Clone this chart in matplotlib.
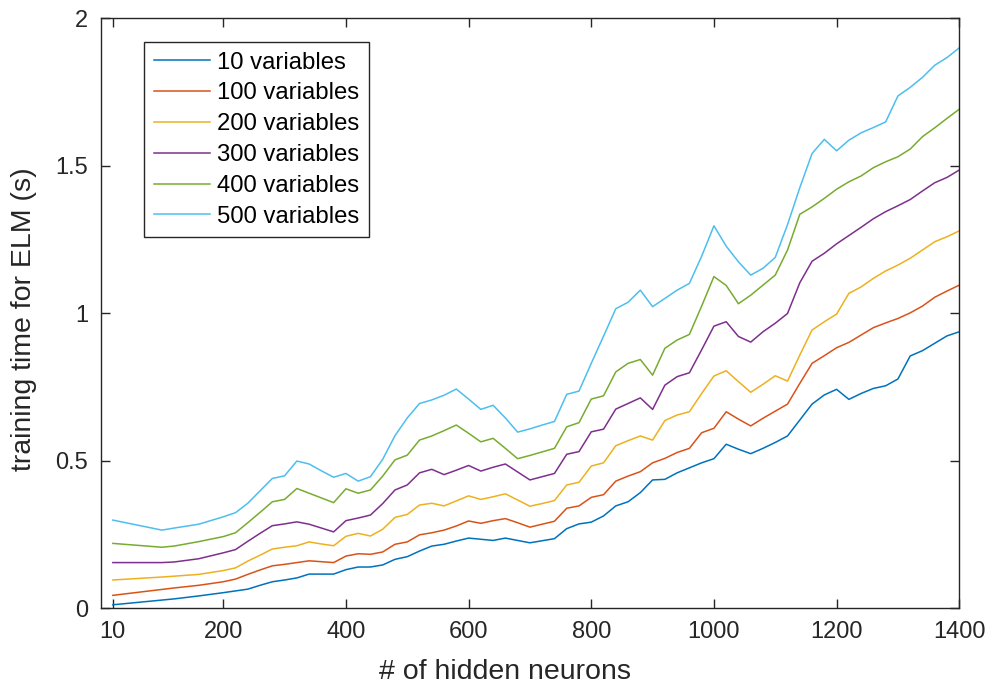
import matplotlib
matplotlib.use("Agg")
import matplotlib.pyplot as plt
from matplotlib.ticker import FixedLocator, FixedFormatter

plt.rcParams['font.family'] = ['Liberation Sans', 'DejaVu Sans']

hidden = [20, 100, 120, 160, 200] + list(range(220, 1401, 20))

v10 = [0.012, 0.028, 0.032, 0.042, 0.053, 0.059, 0.065, 0.078, 0.090, 0.096, 0.103, 0.116, 0.116, 0.116,
       0.131, 0.140, 0.140, 0.147, 0.166, 0.175, 0.194, 0.211, 0.217, 0.228, 0.238, 0.234, 0.230, 0.238,
       0.230, 0.222, 0.229, 0.236, 0.270, 0.286, 0.292, 0.313, 0.347, 0.361, 0.392, 0.435, 0.437, 0.459,
       0.476, 0.493, 0.507, 0.556, 0.539, 0.524, 0.542, 0.562, 0.584, 0.638, 0.692, 0.723, 0.742, 0.708,
       0.728, 0.745, 0.754, 0.777, 0.855, 0.873, 0.898, 0.923, 0.937]
v100 = [0.044, 0.064, 0.069, 0.078, 0.090, 0.099, 0.115, 0.130, 0.144, 0.149, 0.155, 0.161, 0.158, 0.155,
        0.177, 0.185, 0.183, 0.191, 0.217, 0.225, 0.249, 0.256, 0.265, 0.279, 0.296, 0.288, 0.297, 0.304,
        0.290, 0.275, 0.285, 0.295, 0.339, 0.347, 0.376, 0.385, 0.431, 0.448, 0.463, 0.493, 0.508, 0.528,
        0.542, 0.595, 0.610, 0.666, 0.641, 0.618, 0.644, 0.668, 0.692, 0.762, 0.830, 0.856, 0.883, 0.901,
        0.926, 0.951, 0.967, 0.982, 1.001, 1.024, 1.054, 1.075, 1.095]
v200 = [0.096, 0.106, 0.109, 0.115, 0.128, 0.137, 0.160, 0.180, 0.201, 0.207, 0.212, 0.225, 0.218, 0.212,
        0.244, 0.254, 0.245, 0.268, 0.308, 0.318, 0.350, 0.356, 0.347, 0.364, 0.381, 0.369, 0.378, 0.388,
        0.367, 0.346, 0.355, 0.365, 0.418, 0.427, 0.482, 0.493, 0.551, 0.568, 0.584, 0.570, 0.636, 0.655,
        0.666, 0.728, 0.787, 0.805, 0.768, 0.732, 0.759, 0.788, 0.770, 0.858, 0.943, 0.971, 0.997, 1.067,
        1.089, 1.118, 1.143, 1.163, 1.186, 1.214, 1.242, 1.259, 1.279]
v300 = [0.155, 0.155, 0.157, 0.168, 0.188, 0.199, 0.227, 0.254, 0.280, 0.286, 0.293, 0.285, 0.272, 0.259,
        0.297, 0.306, 0.316, 0.355, 0.401, 0.418, 0.459, 0.471, 0.453, 0.468, 0.484, 0.465, 0.478, 0.489,
        0.462, 0.435, 0.446, 0.457, 0.522, 0.531, 0.598, 0.607, 0.675, 0.694, 0.713, 0.674, 0.756, 0.785,
        0.798, 0.876, 0.956, 0.971, 0.921, 0.902, 0.937, 0.966, 0.999, 1.103, 1.176, 1.203, 1.235, 1.263,
        1.291, 1.320, 1.344, 1.364, 1.385, 1.414, 1.442, 1.460, 1.485]
v400 = [0.220, 0.207, 0.211, 0.226, 0.243, 0.256, 0.290, 0.325, 0.361, 0.369, 0.406, 0.390, 0.374, 0.358,
        0.405, 0.390, 0.401, 0.448, 0.503, 0.519, 0.570, 0.584, 0.602, 0.621, 0.593, 0.564, 0.576, 0.542,
        0.507, 0.518, 0.530, 0.542, 0.615, 0.629, 0.709, 0.720, 0.801, 0.830, 0.843, 0.790, 0.881, 0.909,
        0.928, 1.024, 1.124, 1.094, 1.032, 1.061, 1.095, 1.129, 1.214, 1.335, 1.360, 1.389, 1.420, 1.445,
        1.465, 1.493, 1.513, 1.530, 1.556, 1.598, 1.628, 1.660, 1.691]
v500 = [0.299, 0.265, 0.272, 0.285, 0.310, 0.324, 0.356, 0.398, 0.440, 0.449, 0.499, 0.489, 0.466, 0.444,
        0.457, 0.431, 0.446, 0.505, 0.585, 0.645, 0.694, 0.706, 0.722, 0.743, 0.709, 0.674, 0.688, 0.645,
        0.597, 0.608, 0.621, 0.633, 0.725, 0.736, 0.830, 0.922, 1.015, 1.037, 1.078, 1.022, 1.050, 1.078,
        1.101, 1.193, 1.296, 1.227, 1.174, 1.129, 1.152, 1.189, 1.300, 1.425, 1.541, 1.589, 1.550, 1.586,
        1.611, 1.629, 1.648, 1.736, 1.765, 1.799, 1.840, 1.866, 1.899]

series = [v10, v100, v200, v300, v400, v500]
labels = ['10 variables', '100 variables', '200 variables', '300 variables', '400 variables', '500 variables']
colors = ['#0072BD', '#D95319', '#EDB120', '#7E2F8E', '#77AC30', '#4DBEEE']

xtick_pos = [20, 200, 400, 600, 800, 1000, 1200, 1400]
xtick_lab = ['10', '200', '400', '600', '800', '1000', '1200', '1400']
ytick_pos = [0, 0.5, 1, 1.5, 2]
ytick_lab = ['0', '0.5', '1', '1.5', '2']

fig = plt.figure(figsize=(9.87, 6.88), dpi=100)
ax = fig.add_axes([0.1019, 0.1158, 0.8700, 0.8580])

for vals, lab, c in zip(series, labels, colors):
    ax.plot(hidden, vals, color=c, lw=1.1, label=lab)

ax.set_xlim(0, 1400)
ax.set_ylim(0, 2)
ax.xaxis.set_major_locator(FixedLocator(xtick_pos))
ax.xaxis.set_major_formatter(FixedFormatter(xtick_lab))
ax.yaxis.set_major_locator(FixedLocator(ytick_pos))
ax.yaxis.set_major_formatter(FixedFormatter(ytick_lab))

axc = '#262626'
for s in ax.spines.values():
    s.set_color(axc)
    s.set_linewidth(1.0)
ax.tick_params(direction='in', length=6.5, width=1.0, colors=axc, labelcolor=axc,
               top=True, right=True, labelsize=17, pad=9)

ax.set_xlabel('# of hidden neurons', fontsize=20.5, color=axc, labelpad=12)
ax.set_ylabel('training time for ELM (s)', fontsize=20.5, color=axc, labelpad=13)
ax.xaxis.label.set_x(0.471)
ax.yaxis.label.set_y(0.49)

leg = ax.legend(loc='upper left', bbox_to_anchor=(0.0506, 0.9593), fontsize=17.2,
                frameon=True, fancybox=False, borderaxespad=0, handlelength=2.35,
                handletextpad=0.3, labelspacing=0.37, borderpad=0.4)
leg.get_frame().set_edgecolor(axc)
leg.get_frame().set_linewidth(1.0)
leg.get_frame().set_alpha(1)

fig.savefig('out.png', dpi=100)
